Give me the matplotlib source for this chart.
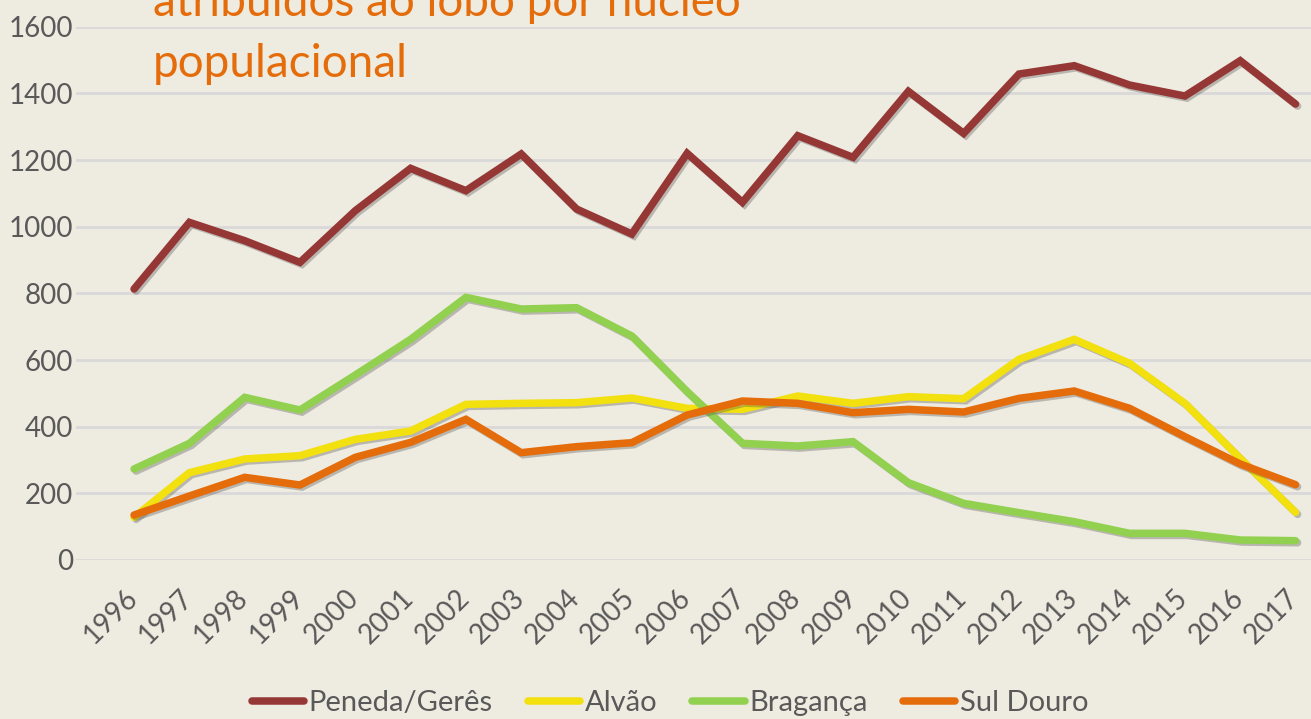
import matplotlib
matplotlib.use("Agg")
import matplotlib.pyplot as plt
import matplotlib.patheffects as pe
import matplotlib.transforms as mtransforms

years = [str(y) for y in range(1996, 2018)]
peneda = [813, 1013, 958, 893, 1048, 1175, 1108, 1218, 1053, 978, 1220,
          1073, 1273, 1208, 1406, 1280, 1458, 1483, 1425, 1392, 1498, 1368]
alvao = [128, 262, 303, 313, 362, 387, 467, 470, 472, 486, 455,
         452, 492, 470, 490, 484, 602, 662, 590, 470, 305, 143]
braganca = [273, 350, 488, 450, 555, 662, 788, 753, 757, 672, 505,
            350, 342, 355, 232, 170, 142, 115, 80, 80, 60, 58]
sul_douro = [135, 192, 248, 225, 308, 353, 422, 322, 340, 352, 435,
             477, 470, 442, 452, 444, 485, 507, 455, 370, 288, 226]
series_names = ["Peneda/Gerês", "Alvão", "Bragança", "Sul Douro"]
series_colors = ["#953735", "#F2E00F", "#92D050", "#E46C0A"]
y_ticks = [0, 200, 400, 600, 800, 1000, 1200, 1400, 1600]
title_lines = ["atribuídos ao lobo por núcleo", "populacional"]

FONT = ["Lato", "DejaVu Sans"]
plt.rcParams['font.family'] = FONT
BG = "#EEEBE0"
TXT = "#595959"

W, H = 1311, 719
fig = plt.figure(figsize=(W / 100, H / 100), dpi=100, facecolor=BG)
left = 76 / W
bottom = 1 - 560 / H
top = 1 - 26.7 / H
ax = fig.add_axes([left, bottom, 1 - left, top - bottom], facecolor=BG)

x = list(range(len(years)))
shadow = [pe.SimpleLineShadow(offset=(1.5, -1.5), shadow_color="#555555", alpha=0.35),
          pe.Normal()]
for vals, name, col in zip([peneda, alvao, braganca, sul_douro], series_names, series_colors):
    ax.plot(x, vals, color=col, lw=5.4, label=name, solid_capstyle="round",
            solid_joinstyle="miter", path_effects=shadow)

ax.set_xlim(-1.05, 21.28)
ax.set_ylim(0, 1600)
ax.set_yticks(y_ticks)
ax.set_yticklabels([str(v) for v in y_ticks])
ax.set_xticks(x)
ax.set_xticklabels(years, rotation=45, ha="right", va="top", rotation_mode="anchor")
ax.tick_params(axis="both", length=0, labelsize=20, labelcolor=TXT)
ax.tick_params(axis="y", pad=2)
ax.tick_params(axis="x", pad=18)
shift = mtransforms.ScaledTranslation(-10 / 100, 0, fig.dpi_scale_trans)
for lab in ax.get_xticklabels():
    lab.set_transform(lab.get_transform() + shift)
ax.grid(axis="y", color="#D9D9D9", lw=2)
ax.set_axisbelow(True)
for s in ax.spines.values():
    s.set_visible(False)

fig.text(153 / W, 1 - 16 / H, title_lines[0], color="#E46C0A", fontsize=33,
         ha="left", va="baseline")
fig.text(153 / W, 1 - 77 / H, title_lines[1], color="#E46C0A", fontsize=33,
         ha="left", va="baseline")

leg = fig.legend(loc="center", bbox_to_anchor=(670 / W, 1 - 703 / H), ncol=4,
                 frameon=False, fontsize=21, handlelength=1.8, handletextpad=0.15,
                 columnspacing=1.2, labelcolor=TXT)
for h in leg.get_lines():
    h.set_linewidth(5.4)
    h.set_solid_capstyle("round")
    h.set_path_effects([])

fig.savefig("out.png", dpi=100, facecolor=BG)
